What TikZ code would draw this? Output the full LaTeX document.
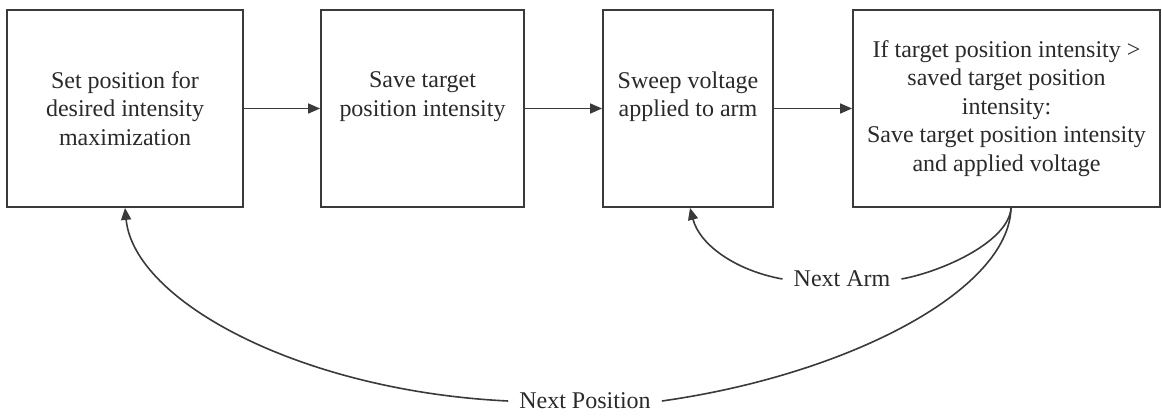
\documentclass[tikz,border=0pt]{standalone}
\usepackage{fontspec}
\setmainfont{Liberation Serif}
\newfontfamily\boxface{Liberation Serif}
\usetikzlibrary{arrows.meta}

\definecolor{inkline}{HTML}{3A3A3A}
\definecolor{inktext}{HTML}{2A2A2A}

\tikzset{
  boxfont/.style={font=\boxface\fontsize{24}{28.5}\selectfont},
  stepbox/.style={draw=inkline, line width=1.8pt, fill=white, inner sep=0pt,
    minimum height=197pt, align=center, text=inktext, boxfont},
  flow/.style={draw=inkline, line width=1.6pt,
    -{Triangle[length=12pt,width=10pt]}},
  link/.style={draw=inkline, line width=1.6pt},
  looplabel/.style={inner xsep=11pt, inner ysep=2pt, text=inktext, boxfont}
}

\begin{document}
\begin{tikzpicture}[x=1pt, y=-1pt]
  \useasboundingbox (0,0) rectangle (1162,418);

  % process steps
  \node[stepbox, minimum width=236pt] (set)   at (125,108.5)
    {Set position for\\desired intensity\\maximization};
  \node[stepbox, minimum width=203pt] (save)  at (422.5,108.5)
    {Save target\\position intensity\\\mbox{}};
  \node[stepbox, minimum width=170pt] (sweep) at (688,108.5)
    {Sweep voltage\\applied to arm\\\mbox{}};
  \node[stepbox, minimum width=307pt] (check) at (1006.5,108.5)
    {If target position intensity >\\saved target position\\intensity:\\Save target position intensity\\and applied voltage};

  % forward flow
  \draw[flow] (set.east)   -- (save.west);
  \draw[flow] (save.east)  -- (sweep.west);
  \draw[flow] (sweep.east) -- (check.west);

  % loop labels
  \node[looplabel] (arm) at (842,279) {Next Arm};
  \node[looplabel] (pos) at (585,401) {Next Position};

  % points where the loops leave and re-enter the boxes
  \coordinate (fork) at ([xshift=4.5pt]check.south);
  \coordinate (armin) at ([xshift=2pt]sweep.south);

  % inner loop: next arm
  \draw[link] (fork) .. controls +(-2,33) and +(43,-8) .. (arm.east);
  \draw[flow] (arm.west) .. controls +(-45,-8) and +(10,38) .. (armin);

  % outer loop: next position
  \draw[link] (fork) .. controls +(-2,83) and +(185,-26) .. (pos.east);
  \draw[flow] (pos.west) .. controls +(-208,-10) and +(9,93) .. (set.south);
\end{tikzpicture}
\end{document}
